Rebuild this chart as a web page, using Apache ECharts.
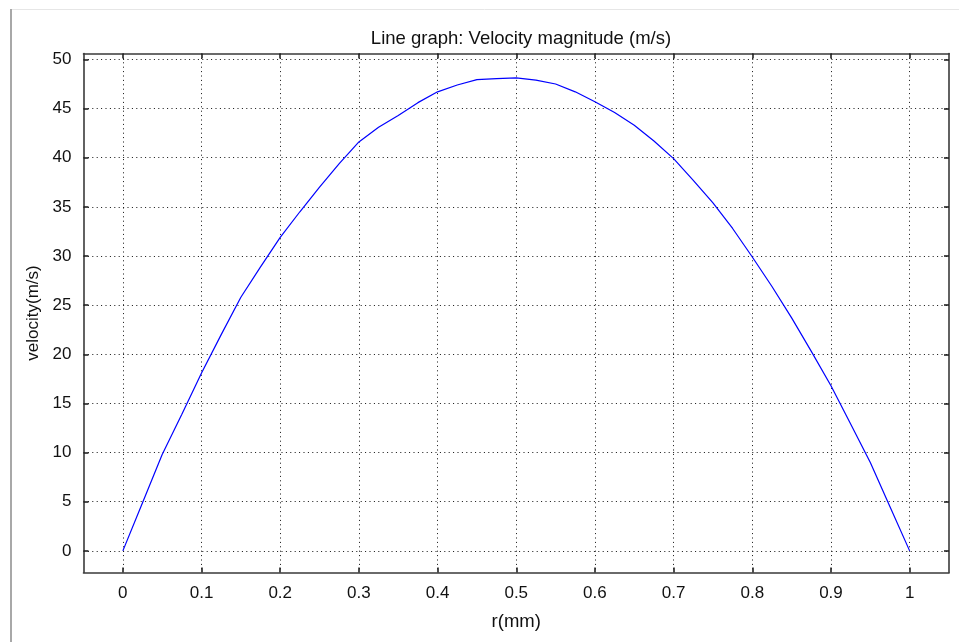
<!DOCTYPE html>
<html><head><meta charset="utf-8">
<script src="https://cdn.jsdelivr.net/npm/echarts@6/dist/echarts.min.js"></script>
<style>html,body{margin:0;padding:0;background:#fff}#c{width:959px;height:642px}</style>
</head><body><div id="c"></div>
<script>
const titleText = 'Line graph: Velocity magnitude (m/s)';
const xName = 'r(mm)';
const yName = 'velocity(m/s)';
const radius = [0, 0.025, 0.05, 0.075, 0.1, 0.125, 0.15, 0.175, 0.2, 0.225, 0.25, 0.275, 0.3, 0.325, 0.35, 0.375, 0.4, 0.425, 0.45, 0.475, 0.5,
                0.525, 0.55, 0.575, 0.6, 0.625, 0.65, 0.675, 0.7, 0.725, 0.75, 0.775, 0.8, 0.825, 0.85, 0.875, 0.9, 0.925, 0.95, 0.975, 1];
const velocity = [0, 4.9, 9.8, 13.9, 18.1, 22.0, 25.8, 28.9, 31.9, 34.5, 37.0, 39.4, 41.6, 43.1, 44.3, 45.6, 46.7, 47.4, 47.95, 48.05, 48.13,
                  47.9, 47.5, 46.7, 45.7, 44.6, 43.3, 41.7, 39.9, 37.7, 35.4, 32.8, 29.9, 26.9, 23.7, 20.3, 16.8, 12.9, 9.0, 4.5, 0];
const xTicks = [0, 0.1, 0.2, 0.3, 0.4, 0.5, 0.6, 0.7, 0.8, 0.9, 1];
const yTicks = [0, 5, 10, 15, 20, 25, 30, 35, 40, 45, 50];

const FONT = 'Liberation Sans, Arial, sans-serif';
const axisColor = '#3a3a3a';
const chart = echarts.init(document.getElementById('c'), null, {renderer: 'canvas'});

function mainAxis(ticks, extra) {
  return Object.assign({
    type: 'value',
    axisLine: {show: true, onZero: false, lineStyle: {color: axisColor, width: 1.6}},
    axisTick: {show: true, inside: true, length: 5, customValues: ticks, lineStyle: {color: '#222', width: 1.6}},
    axisLabel: {show: true, customValues: ticks, fontSize: 17, color: '#111', fontFamily: FONT, margin: 12},
    splitLine: {show: true, lineStyle: {type: [1, 3.4], color: '#111', width: 1}},
    nameTextStyle: {fontSize: 17, color: '#111', fontFamily: FONT}
  }, extra);
}
function mirrorAxis(ticks, extra) {
  return Object.assign({
    type: 'value',
    axisLine: {show: true, onZero: false, lineStyle: {color: axisColor, width: 1.6}},
    axisTick: {show: true, inside: true, length: 5, customValues: ticks, lineStyle: {color: '#222', width: 1.6}},
    axisLabel: {show: false},
    splitLine: {show: false}
  }, extra);
}

chart.setOption({
  animation: false,
  backgroundColor: '#fff',
  title: {
    text: titleText, left: 516, top: 24, textAlign: 'center',
    textStyle: {fontSize: 18.5, fontWeight: 'normal', color: '#111', fontFamily: FONT}
  },
  grid: {left: 83.5, top: 53.5, right: 10, bottom: 69.5, containLabel: false},
  xAxis: [
    mainAxis(xTicks, {position: 'bottom', min: -0.05, max: 1.05, name: xName, nameLocation: 'middle', nameGap: 40,
      nameTextStyle: {fontSize: 18.5, color: '#111', fontFamily: FONT}}),
    mirrorAxis(xTicks, {position: 'top', min: -0.05, max: 1.05})
  ],
  yAxis: [
    mainAxis(yTicks, {position: 'left', min: -2.2, max: 50.6, name: yName, nameLocation: 'middle', nameGap: 38}),
    mirrorAxis(yTicks, {position: 'right', min: -2.2, max: 50.6})
  ],
  series: [{
    type: 'line',
    xAxisIndex: 0, yAxisIndex: 0,
    data: radius.map((r, i) => [r, velocity[i]]),
    symbol: 'none',
    lineStyle: {color: '#0000ff', width: 1.2},
    silent: true
  }],
  graphic: [
    {type: 'line', shape: {x1: 10, y1: 9.5, x2: 959, y2: 9.5}, style: {stroke: '#e6e6e6', lineWidth: 1}, silent: true},
    {type: 'line', shape: {x1: 11, y1: 9, x2: 11, y2: 642}, style: {stroke: '#a8a8a8', lineWidth: 2}, silent: true}
  ]
});
</script>
</body></html>
